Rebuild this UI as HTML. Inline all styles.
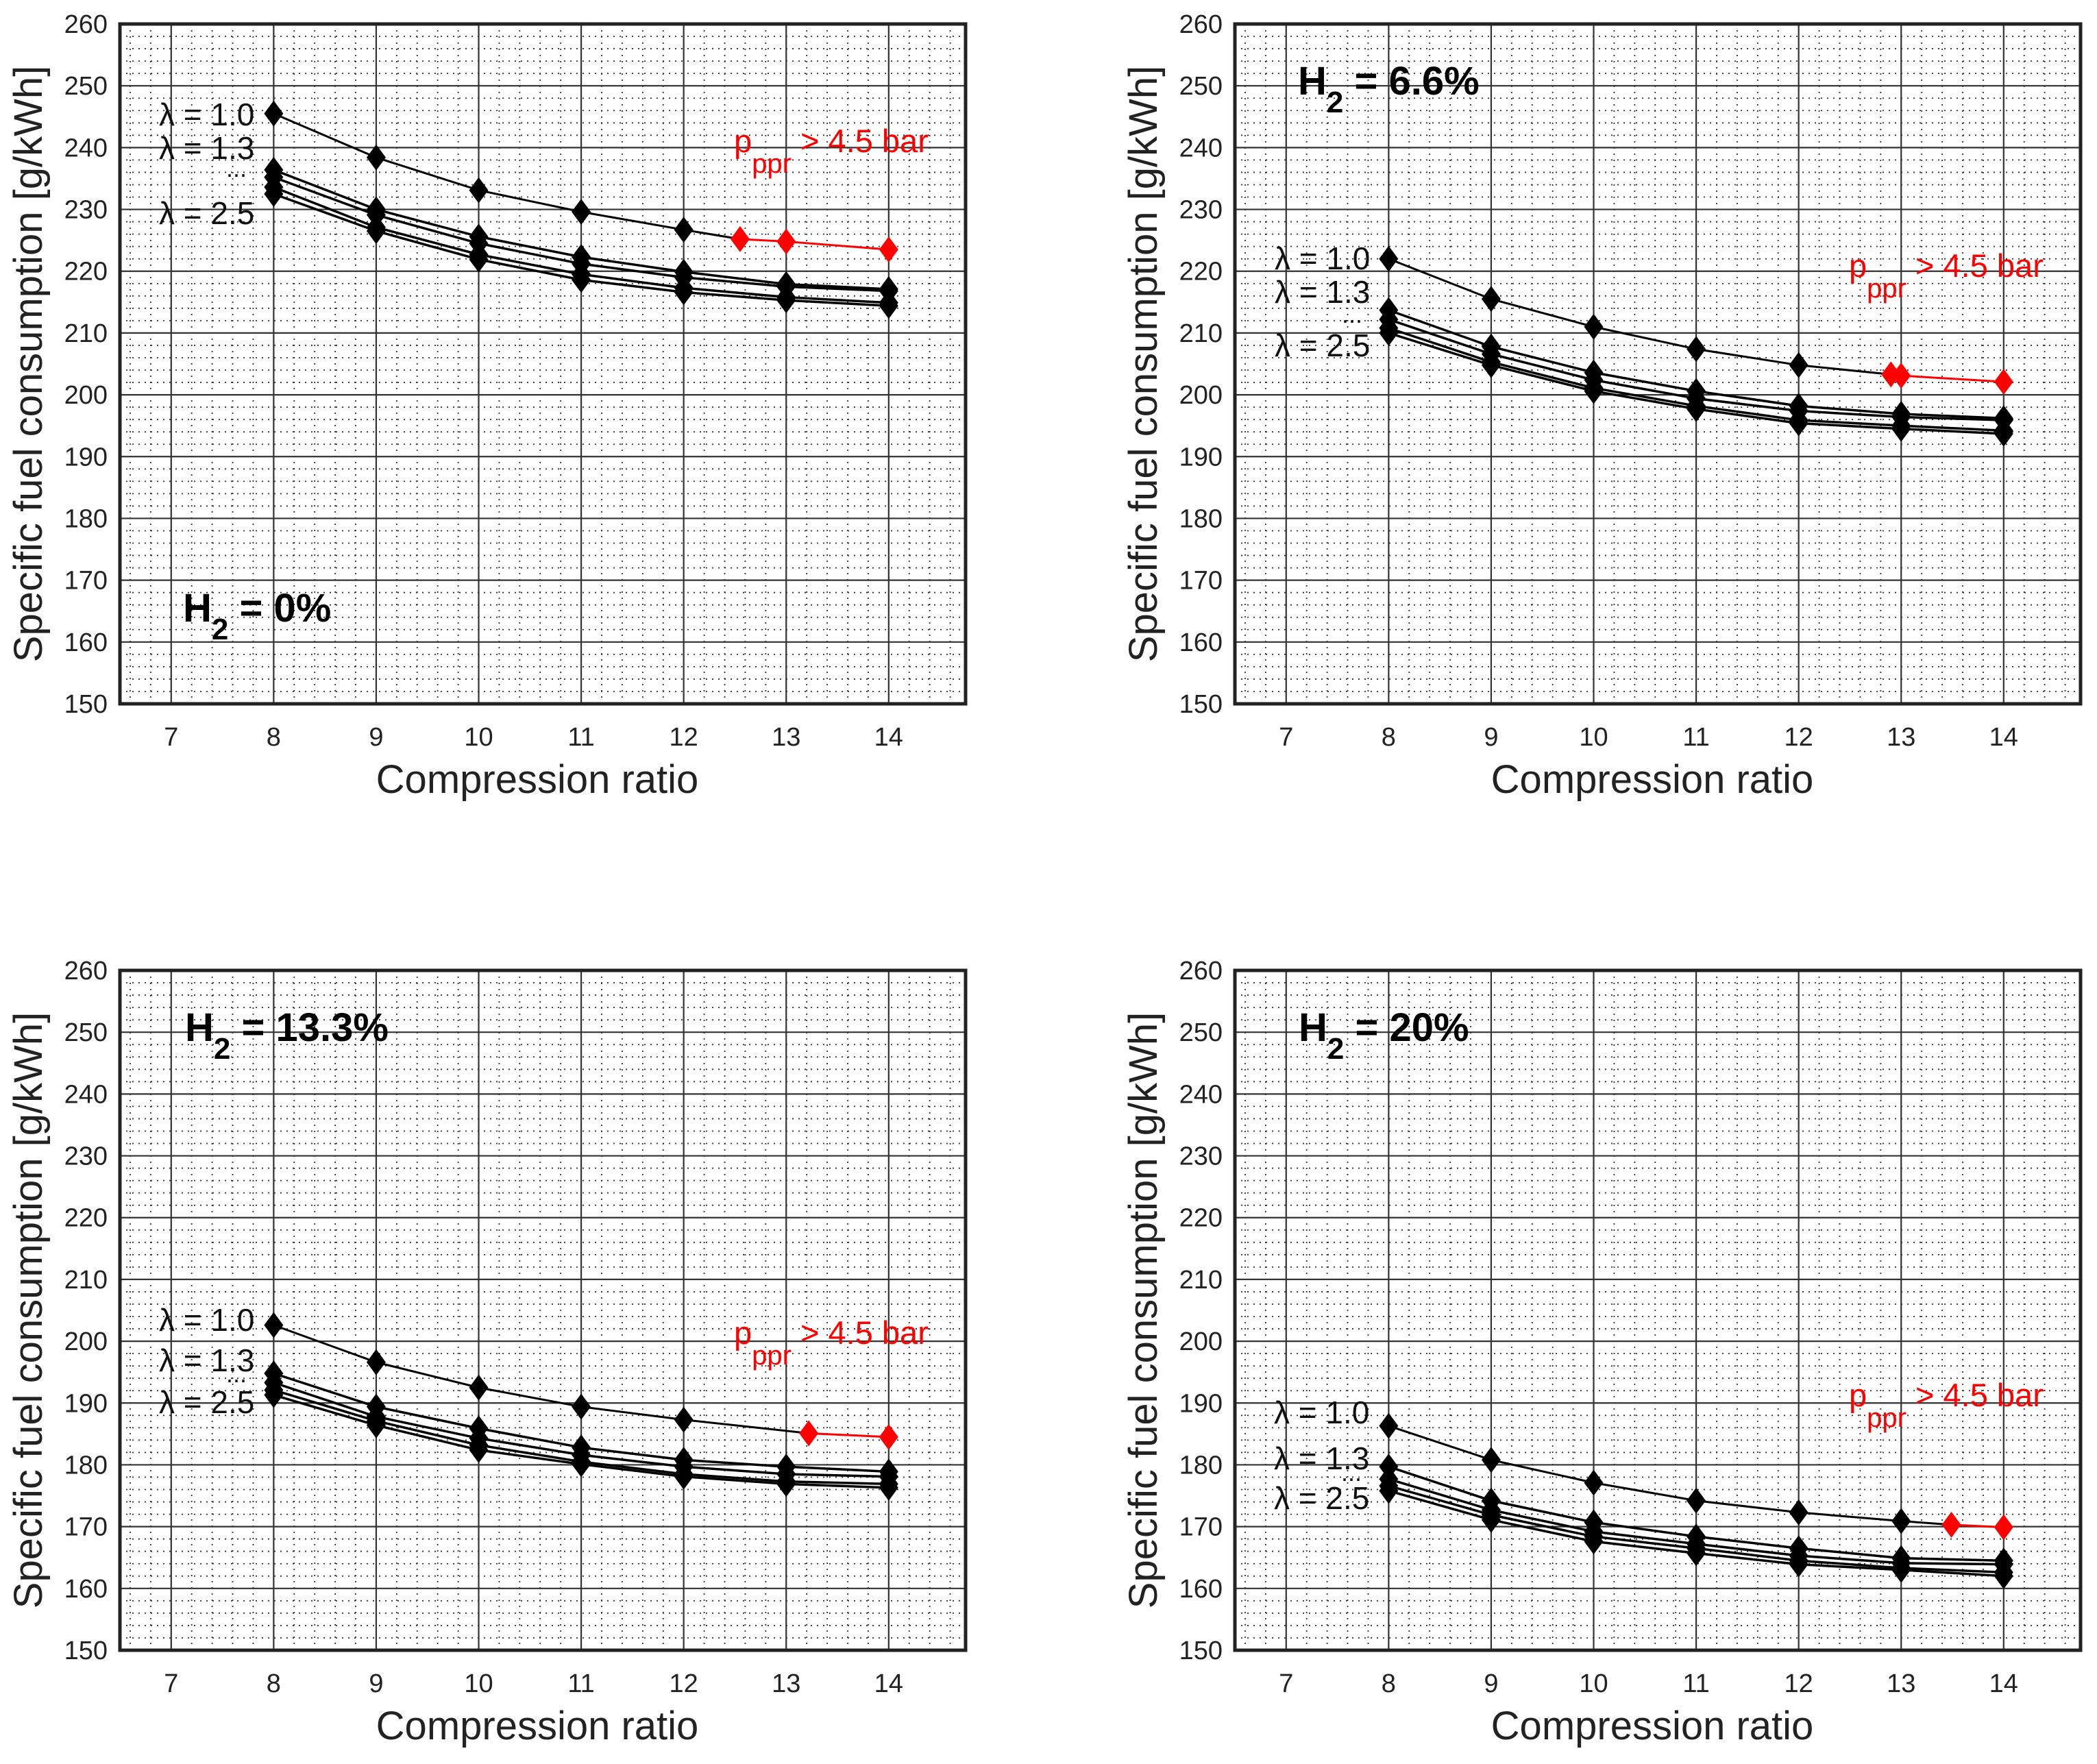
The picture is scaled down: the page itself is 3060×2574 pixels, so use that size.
<!DOCTYPE html>
<html><head><meta charset="utf-8">
<style>
html,body{margin:0;padding:0;background:#fff;}
svg{display:block;}
text{font-family:"Liberation Sans",Arial,sans-serif;}
</style></head>
<body>
<svg id="fig" width="3060" height="2574" viewBox="0 0 3060 2574" xmlns="http://www.w3.org/2000/svg"></svg>
<script>
// ---- data ----
const crX = [8, 9, 10, 11, 12, 13, 14];
const xTicks = [7, 8, 9, 10, 11, 12, 13, 14];
const yTicks = [150, 160, 170, 180, 190, 200, 210, 220, 230, 240, 250, 260];

// H2 = 0%
const h0_lam10 = [245.5, 238.4, 233.1, 229.6, 226.7];
const h0_redX = [12.55, 13, 14];
const h0_red = [225.2, 224.8, 223.5];
const h0_a = [236.4, 230.0, 225.6, 222.3, 219.9, 217.9, 217.1];
const h0_b = [235.2, 229.1, 224.5, 221.2, 219.0, 217.5, 216.8];
const h0_c = [233.6, 227.1, 222.7, 219.5, 217.3, 215.8, 214.9];
const h0_d = [232.5, 226.5, 221.9, 218.6, 216.6, 215.3, 214.4];

// H2 = 6.6%
const h6_lam10 = [222.0, 215.5, 211.0, 207.4, 204.8];
const h6_redX = [12.9, 13.0, 14];
const h6_red = [203.3, 203.1, 202.1];
const h6_a = [213.7, 207.8, 203.6, 200.6, 198.2, 196.9, 196.2];
const h6_b = [212.2, 206.6, 202.4, 199.4, 197.4, 196.4, 195.9];
const h6_c = [210.8, 205.3, 201.1, 198.2, 195.9, 195.0, 194.2];
const h6_d = [210.0, 204.8, 200.6, 197.7, 195.4, 194.5, 193.7];

// H2 = 13.3%
const h13_lam10 = [202.6, 196.6, 192.5, 189.4, 187.3];
const h13_redX = [13.22, 14];
const h13_red = [185.1, 184.5];
const h13_a = [194.8, 189.4, 185.9, 182.8, 180.8, 179.7, 178.9];
const h13_b = [193.3, 187.8, 184.3, 181.6, 179.7, 178.5, 178.1];
const h13_c = [192.1, 187.1, 183.2, 180.5, 178.5, 177.3, 176.9];
const h13_d = [191.3, 186.4, 182.4, 180.1, 178.1, 176.9, 176.3];

// H2 = 20%
const h20_lam10 = [186.3, 180.8, 177.1, 174.2, 172.3, 170.9];
const h20_redX = [13.49, 14];
const h20_red = [170.3, 169.9];
const h20_a = [179.7, 174.2, 170.7, 168.4, 166.5, 164.9, 164.5];
const h20_b = [177.7, 172.7, 169.2, 167.2, 165.3, 164.1, 163.9];
const h20_c = [176.6, 171.9, 168.4, 166.5, 164.5, 163.3, 162.6];
const h20_d = [175.8, 171.1, 167.6, 165.7, 163.9, 163.0, 162.0];

const panels = [
  {id:'h2-0', left:175, top:35, lam10:h0_lam10, redX:h0_redX, red:h0_red, others:[h0_a,h0_b,h0_c,h0_d],
   h2:'0%', h2x:267, h2y:907, lamX:232, lamY:[183,232,327], dotsY:258, pX:1071, pY:222},
  {id:'h2-6-6', left:1802, top:35, lam10:h6_lam10, redX:h6_redX, red:h6_red, others:[h6_a,h6_b,h6_c,h6_d],
   h2:'6.6%', h2x:1894, h2y:138, lamX:1860, lamY:[393,442,520], dotsY:471, pX:2698, pY:404},
  {id:'h2-13-3', left:175, top:1416, lam10:h13_lam10, redX:h13_redX, red:h13_red, others:[h13_a,h13_b,h13_c,h13_d],
   h2:'13.3%', h2x:270, h2y:1519, lamX:232, lamY:[1942,2001,2062], dotsY:2017, pX:1071, pY:1961},
  {id:'h2-20', left:1802, top:1416, lam10:h20_lam10, redX:h20_redX, red:h20_red, others:[h20_a,h20_b,h20_c,h20_d],
   h2:'20%', h2x:1895, h2y:1519, lamX:1859, lamY:[2077,2144,2202], dotsY:2161, pX:2698, pY:2052}
];

const NS = 'http://www.w3.org/2000/svg';
const svg = document.getElementById('fig');
const W = 1234, H = 992, XMIN = 6.5, XMAX = 14.75, YMIN = 150, YMAX = 260;

function mk(tag, attrs, parent){
  const e = document.createElementNS(NS, tag);
  for (const k in attrs) e.setAttribute(k, attrs[k]);
  (parent||svg).appendChild(e);
  return e;
}
function diamond(g, cx, cy, color){
  const d = mk('path', {d:`M${cx} ${cy-19}L${cx+14} ${cy}L${cx} ${cy+19}L${cx-14} ${cy}Z`, fill:color}, g);
  
  
}

panels.forEach(p => {
  const sx = v => p.left + (v - XMIN) / (XMAX - XMIN) * W;
  const sy = v => p.top + (YMAX - v) / (YMAX - YMIN) * H;
  const g = mk('g', {});
  
  

  const mg = mk('g', {stroke:'#333', 'stroke-width':1.8, 'stroke-dasharray':'2 7'}, g);
  
  
  for (let i = 0; i <= 41; i++) {
    const v = 6.6 + i * 0.2;
    if (v > XMAX) break;
    if (Math.abs(v - Math.round(v)) < 0.01) continue;
    const x = sx(v);
    mk('line', {x1:x, y1:p.top, x2:x, y2:p.top+H}, mg);
  }
  for (let v = 152; v < 260; v += 2) {
    if (v % 10 === 0) continue;
    const y = sy(v);
    mk('line', {x1:p.left, y1:y, x2:p.left+W, y2:y}, mg);
  }
  const jg = mk('g', {stroke:'#333', 'stroke-width':2.2}, g);
  
  
  xTicks.forEach(v => { const x = sx(v); mk('line', {x1:x, y1:p.top, x2:x, y2:p.top+H}, jg); });
  yTicks.forEach(v => { const y = sy(v); mk('line', {x1:p.left, y1:y, x2:p.left+W, y2:y}, jg); });
  const fr = mk('rect', {x:p.left, y:p.top, width:W, height:H, fill:'none', stroke:'#222', 'stroke-width':5}, g);
  
  

  yTicks.forEach(v => {
    const t = mk('text', {x:p.left-18, y:sy(v)+13, 'text-anchor':'end', 'font-size':38, fill:'#222'}, g);
    t.textContent = v;
    
    
  });
  xTicks.forEach(v => {
    const t = mk('text', {x:sx(v), y:p.top+H+61, 'text-anchor':'middle', 'font-size':38, fill:'#222'}, g);
    t.textContent = v;
    
    
  });
  const yt = mk('text', {x:0, y:0, 'text-anchor':'middle', 'font-size':58, fill:'#222',
    transform:`translate(${p.left-114},${p.top+H/2}) rotate(-90)`}, g);
  yt.textContent = 'Specific fuel consumption [g/kWh]';
  
  
  const xt = mk('text', {x:p.left+W/2 - 8, y:p.top+H+130, 'text-anchor':'middle', 'font-size':58, fill:'#222'}, g);
  xt.textContent = 'Compression ratio';
  
  

  p.others.forEach((arr, k) => {
    const pts = arr.map((v,i) => `${sx(crX[i])},${sy(v)}`).join(' ');
    const ln = mk('polyline', {points:pts, fill:'none', stroke:'#000', 'stroke-width':3.5}, g);
    
    
    arr.forEach((v,i) => diamond(g, sx(crX[i]), sy(v), '#000'));
  });
  const bpts = p.lam10.map((v,i) => `${sx(crX[i])},${sy(v)}`);
  bpts.push(`${sx(p.redX[0])},${sy(p.red[0])}`);
  const bl = mk('polyline', {points:bpts.join(' '), fill:'none', stroke:'#000', 'stroke-width':3}, g);
  
  
  p.lam10.forEach((v,i) => diamond(g, sx(crX[i]), sy(v), '#000'));
  const rpts = p.red.map((v,i) => `${sx(p.redX[i])},${sy(v)}`).join(' ');
  const rl = mk('polyline', {points:rpts, fill:'none', stroke:'#f00', 'stroke-width':3}, g);
  
  
  p.red.forEach((v,i) => diamond(g, sx(p.redX[i]), sy(v), '#f00'));

  const h = mk('text', {x:p.h2x, y:p.h2y, 'font-size':58, 'font-weight':'bold', fill:'#000'}, g);
  
  
  h.innerHTML = `H<tspan dy="26" font-size="44">2</tspan><tspan dy="-26"> = ${p.h2}</tspan>`;
  const labs = ['λ = 1.0', 'λ = 1.3', 'λ = 2.5'];
  labs.forEach((s,i) => {
    const t = mk('text', {x:p.lamX, y:p.lamY[i], 'font-size':46, fill:'#111'}, g);
    t.textContent = s;
    
    
  });
  const dt = mk('text', {x:p.lamX+98, y:p.dotsY, 'font-size':36, fill:'#111'}, g);
  dt.textContent = '...';
  
  
  const pt = mk('text', {x:p.pX, y:p.pY, 'font-size':47, fill:'#f00'}, g);
  
  
  pt.innerHTML = `p<tspan dy="30" font-size="40">ppr</tspan><tspan dy="-30"> &gt; 4.5 bar</tspan>`;
});
</script>
</body></html>
